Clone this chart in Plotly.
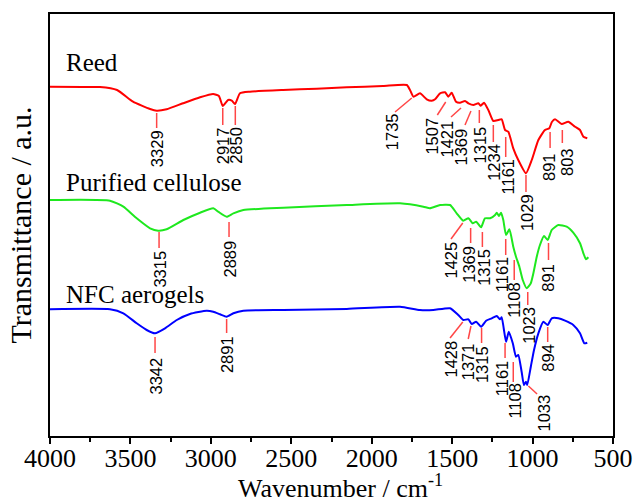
import plotly.graph_objects as go

# ---------------- data (wavenumber in cm-1, transmittance in a.u.) ----------------
reed_wn = [4000, 3800, 3689, 3583, 3484, 3378, 3337, 3275, 3173, 3067, 2986, 2950, 2926, 2893,
           2870, 2850, 2819, 2757, 2551, 2342, 2155, 1930, 1782, 1762, 1741, 1700, 1658, 1627,
           1606, 1575, 1544, 1524, 1503, 1476, 1451, 1420, 1399, 1368, 1337, 1322, 1302, 1275,
           1244, 1213, 1192, 1171, 1151, 1120, 1089, 1041, 1005, 964, 923, 896, 880, 860, 819,
           778, 736, 705, 684, 660]
reed_t = [349.3, 349, 349, 346, 334.3, 327, 325.3, 326.7, 332.7, 338.7, 342, 340, 330, 336,
          335.3, 332, 342.7, 344.3, 346, 347.3, 348.7, 350, 351, 346, 339.3, 342.7, 336.7, 335.3,
          336.7, 342.7, 343.7, 339.3, 343.3, 334.3, 333.3, 335, 332.7, 331, 332.7, 330.3, 333.3, 326,
          315, 316, 316.7, 306, 304.3, 287.7, 276, 262.7, 276, 296, 306, 307.7, 314, 316.7, 312,
          314.3, 309.3, 306, 299.3, 297.7]

cell_wn = [4000, 3627, 3544, 3461, 3378, 3327, 3275, 3171, 3067, 2985, 2954, 2902, 2860, 2798,
           2549, 2155, 1824, 1679, 1638, 1575, 1513, 1472, 1431, 1399, 1372, 1351, 1320, 1296,
           1264, 1233, 1223, 1209, 1196, 1182, 1165, 1144, 1120, 1103, 1082, 1061, 1036, 1011,
           995, 974, 954, 929, 906, 881, 840, 788, 747, 705, 684, 668, 653]
cell_t = [236, 235.3, 229.3, 217.7, 207.7, 205.3, 206.7, 216, 223.3, 227.7, 224.3, 219.3, 222.7, 226,
          228.3, 231, 232.7, 229.3, 227.7, 231, 231, 222.7, 215.3, 217.7, 212.7, 214.3, 208.7, 217.7,
          217.7, 221, 223.3, 220, 223.3, 216, 201, 206.7, 189.3, 179.3, 169.3, 156, 147.7, 152.7,
          162.7, 179.3, 191, 200, 196, 206, 211, 209.3, 203.3, 192.7, 182.7, 176.7, 178.7]

nfc_wn = [4000, 3627, 3544, 3461, 3399, 3347, 3285, 3212, 3130, 3026, 2985, 2943, 2902, 2860,
          2798, 2549, 2155, 1824, 1700, 1617, 1513, 1462, 1431, 1399, 1378, 1351, 1320, 1289,
          1254, 1223, 1202, 1192, 1165, 1148, 1123, 1103, 1089, 1068, 1054, 1041, 1033, 1011,
          991, 964, 933, 906, 881, 840, 798, 747, 705, 678, 660]
nfc_t = [126.7, 126.7, 122.7, 112.7, 106, 102.7, 107.7, 116, 122, 125.3, 124.3, 121.7, 119.3, 122.7,
         125.3, 126, 127, 129.3, 126, 126, 127.7, 121, 116, 116.7, 112, 114.3, 109.3, 115.3,
         117.7, 120, 116.7, 118.7, 94.3, 104.3, 92.7, 79.3, 81, 64.3, 51, 54.3, 51, 69.3,
         86, 102.7, 114.3, 111, 117.7, 117.7, 115.3, 111, 102.7, 92.7, 93.3]

series_names = ["Reed", "Purified cellulose", "NFC aerogels"]
series_colors = ["#ff0000", "#1ee81e", "#0000ff"]

# peak labels (text) for each sample
reed_peaks = ["3329", "2917", "2850", "1735", "1507", "1421", "1369", "1315", "1234", "1161", "1029", "891", "803"]
cell_peaks = ["3315", "2889", "1425", "1369", "1315", "1161", "1108", "1023", "891"]
nfc_peaks = ["3342", "2891", "1428", "1371", "1315", "1161", "1108", "1033", "894"]

# label placement: (x_top, y_top, x_bottom, y_bottom, x_text, y_text_top)
reed_place = [(3337, 323, 3337, 308, 3337, 307), (2926, 328, 2926, 311, 2926, 310),
              (2848, 330, 2848, 311, 2848, 310), (1751, 338, 1855, 324, 1876, 324),
              (1540, 334, 1592, 321, 1631, 319), (1445, 328, 1507, 319, 1538, 316),
              (1383, 325, 1420, 311, 1445, 309), (1331, 326, 1331, 313, 1327, 311),
              (1244, 311, 1244, 294, 1244, 293), (1167, 299, 1167, 279, 1153, 278),
              (1041, 261, 1041, 244, 1037, 243), (891, 304, 891, 288, 898, 284),
              (815, 306, 815, 293, 786, 289)]
cell_place = [(3322, 204, 3322, 188, 3322, 186), (2887, 214, 2887, 199, 2887, 196),
              (1434, 213, 1507, 197, 1513, 195), (1385, 208, 1385, 193, 1400, 191),
              (1312, 204, 1312, 189, 1306, 188), (1167, 197, 1167, 181, 1192, 180),
              (1114, 176, 1114, 156, 1120, 154), (1030, 144, 1030, 131, 1027, 130),
              (901, 193, 901, 176, 906, 173)]
nfc_place = [(3347, 99, 3347, 83, 3347, 79), (2902, 117, 2902, 103, 2902, 101),
             (1434, 114, 1513, 98, 1513, 96), (1383, 110, 1400, 97, 1403, 94),
             (1317, 108, 1317, 93, 1317, 91), (1171, 93, 1171, 78, 1192, 76),
             (1120, 74, 1120, 54, 1115, 53), (1026, 50, 972, 42, 929, 43),
             (906, 109, 906, 94, 906, 93)]

# sample name label positions (wavenumber, a.u.)
name_pos = [(3910, 374), (3910, 254), (3915, 142)]

x_ticks = [4000, 3500, 3000, 2500, 2000, 1500, 1000, 500]

# ---------------- figure ----------------
SERIF = "Liberation Serif"
SANS = "Liberation Sans"

fig = go.Figure()
for wn, t, name, col in zip([reed_wn, cell_wn, nfc_wn], [reed_t, cell_t, nfc_t],
                            series_names, series_colors):
    fig.add_trace(go.Scatter(x=wn, y=t, mode="lines", name=name,
                             line=dict(color=col, width=2, shape="spline", smoothing=0.5),
                             showlegend=False, hoverinfo="skip"))

shapes = []
annotations = []
for peaks, places in [(reed_peaks, reed_place), (cell_peaks, cell_place), (nfc_peaks, nfc_place)]:
    for lab, (xt, yt, xb, yb, xtx, ytx) in zip(peaks, places):
        shapes.append(dict(type="line", xref="x", yref="y", x0=xt, y0=yt, x1=xb, y1=yb,
                           line=dict(color="rgb(255,70,70)", width=1.5)))
        annotations.append(dict(x=xtx, y=ytx, xref="x", yref="y", text=lab, showarrow=False,
                                textangle=-90, xanchor="center", yanchor="top",
                                font=dict(family=SANS, size=16.5, color="black"),
                                borderpad=0))

for name, (xn, yn) in zip(series_names, name_pos):
    annotations.append(dict(x=xn, y=yn, xref="x", yref="y", text=name, showarrow=False,
                            xanchor="left", yanchor="middle",
                            font=dict(family=SERIF, size=25, color="black")))

# x-axis title as a positioned annotation
annotations.append(dict(x=0.5, y=-0.119, xref="paper", yref="paper", xshift=9,
                        text="Wavenumber / cm<sup>-1</sup>", showarrow=False,
                        xanchor="center", yanchor="middle", borderpad=0,
                        font=dict(family=SERIF, size=26, color="black")))

fig.update_layout(
    width=633, height=501,
    margin=dict(l=50, r=20, t=14, b=65, autoexpand=False),
    paper_bgcolor="white", plot_bgcolor="white",
    font=dict(family=SERIF, color="black"),
    shapes=shapes, annotations=annotations,
    xaxis=dict(range=[4000, 500], tickvals=x_ticks, ticktext=[str(v) for v in x_ticks],
               ticks="outside", ticklen=6, tickwidth=2, tickcolor="black",
               ticklabelstandoff=-8,
               minor=dict(dtick=250, ticks="outside", ticklen=4, tickwidth=2, tickcolor="black"),
               showline=True, linecolor="black", linewidth=2, mirror=True,
               showgrid=False, zeroline=False, automargin=False,
               tickfont=dict(family=SERIF, size=26, color="black")),
    yaxis=dict(range=[0, 422], showticklabels=False, ticks="",
               showline=True, linecolor="black", linewidth=2, mirror=True,
               showgrid=False, zeroline=False, automargin=False,
               title=dict(text="Transmittance / a.u.", standoff=8,
                          font=dict(family=SERIF, size=30, color="black"))),
)

fig.write_html("out.html", config={"displayModeBar": False},
               post_script="document.body.style.margin='0';document.body.style.padding='0';")
